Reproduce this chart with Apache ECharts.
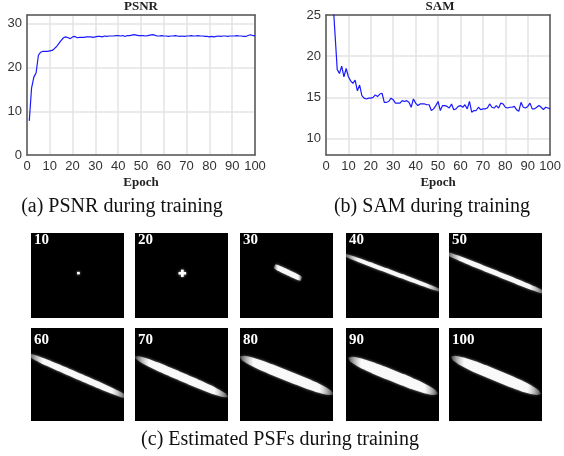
<!DOCTYPE html>
<html>
<head>
    <meta charset="utf-8">
    <title>PSNR / SAM / PSF</title>
    <script src="https://cdn.jsdelivr.net/npm/echarts@6.0.0/dist/echarts.min.js"></script>
    <style>
        html, body { margin: 0; padding: 0; background: #fff; }
        #chart1 { width: 564px; height: 456px; }
    </style>
</head>
<body>
<div id="chart1"></div>

<script type="text/javascript">
    // PSNR per epoch (epoch 1..100)
    var psnr = [
        7.8, 15.3, 17.8, 18.8, 22.8, 23.5, 23.7, 23.7, 23.7, 23.8,
        23.9, 24.3, 24.8, 25.5, 26.2, 26.8, 27.0, 26.8, 26.6, 27.0,
        27.1, 26.8, 26.9, 26.9, 26.9, 27.0, 27.0, 27.0, 26.9, 27.0,
        27.1, 27.1, 27.0, 27.2, 27.1, 27.2, 27.2, 27.2, 27.3, 27.3,
        27.2, 27.3, 27.1, 27.3, 27.3, 27.4, 27.5, 27.4, 27.3, 27.3,
        27.3, 27.2, 27.3, 27.4, 27.5, 27.4, 27.2, 27.2, 27.3, 27.2,
        27.2, 27.1, 27.2, 27.2, 27.3, 27.2, 27.1, 27.2, 27.1, 27.2,
        27.2, 27.3, 27.2, 27.2, 27.3, 27.2, 27.2, 27.1, 27.1, 27.0,
        27.1, 27.0, 27.1, 27.2, 27.1, 27.2, 27.2, 27.1, 27.2, 27.2,
        27.2, 27.3, 27.2, 27.2, 27.1, 27.1, 27.3, 27.5, 27.3, 27.3
    ];
    // SAM per epoch (epoch 1..100), first ones above the plot top
    var sam = [
        40.0, 31.0, 27.2, 22.8, 18.4, 17.9, 18.8, 17.5, 18.5, 17.5,
        17.0, 16.7, 17.1, 15.8, 16.5, 15.2, 14.9, 14.8, 14.9, 14.9,
        15.0, 15.3, 15.1, 15.4, 15.5, 14.4, 14.4, 14.5, 14.9, 14.7,
        14.3, 14.3, 14.3, 14.6, 14.5, 14.6, 14.4, 13.8, 14.8, 14.3,
        14.0, 14.2, 14.2, 14.2, 14.1, 14.1, 13.4, 13.6, 14.0, 14.5,
        13.4, 14.0, 14.0, 13.9, 13.7, 14.2, 13.5, 13.6, 13.9, 14.0,
        13.8, 14.1, 13.6, 14.5, 13.2, 13.4, 13.4, 13.8, 13.5, 13.6,
        13.6, 13.7, 14.2, 13.8, 13.7, 14.0, 13.7, 14.3, 14.2, 13.8,
        13.7, 13.8, 13.8, 13.9, 13.5, 13.3, 14.4, 13.8, 13.7, 13.9,
        14.3, 13.6, 13.6, 13.8, 14.0, 13.8, 13.5, 13.8, 13.7, 13.6
    ];

    // estimated PSF snapshots: streaks in panel coords [x1, y1, x2, y2, width, taper]
    var psfEpochs = [10, 20, 30, 40, 50, 60, 70, 80, 90, 100];
    var psfStreaks = [
        [[0.495, 0.472, 0.525, 0.472, 0.03, 0]],
        [[0.468, 0.474, 0.55, 0.474, 0.03, 0], [0.509, 0.431, 0.509, 0.517, 0.032, 0]],
        [[0.37, 0.39, 0.66, 0.54, 0.065, 0.3]],
        [[-0.02, 0.255, 1.02, 0.68, 0.05, 0.5]],
        [[-0.02, 0.24, 1.02, 0.70, 0.06, 0.5]],
        [[-0.02, 0.29, 1.02, 0.74, 0.07, 0.6]],
        [[0.0, 0.31, 1.0, 0.74, 0.09, 0.9]],
        [[0.0, 0.31, 1.0, 0.71, 0.11, 0.9]],
        [[0.02, 0.32, 0.99, 0.71, 0.12, 1]],
        [[0.02, 0.31, 0.99, 0.71, 0.12, 1]]
    ];

    var serif = 'Liberation Serif';
    var sans = 'Liberation Sans';
    var panelLeft = [31, 135, 240, 346, 449];
    var panelTop = [233, 328];
    var panelH = [85, 93];

    function toPairs(arr) {
        return arr.map(function (v, i) { return [i + 1, v]; });
    }

    function renderStreak(params, api) {
        var p1 = api.coord([api.value(0), api.value(1)]);
        var p2 = api.coord([api.value(2), api.value(3)]);
        var w = api.size([0, api.value(4)])[1];
        var taper = api.value(5);
        var dx = p2[0] - p1[0], dy = p2[1] - p1[1];
        var len = Math.sqrt(dx * dx + dy * dy) || 1;
        var nx = -dy / len, ny = dx / len;
        var top = [], bottom = [];
        for (var i = 0; i <= 30; i++) {
            var t = i / 30;
            var u = Math.abs(2 * t - 1);
            var half = w / 2 * (1 - taper + taper * Math.sqrt(1 - Math.pow(u, 3)));
            var cx = p1[0] + dx * t, cy = p1[1] + dy * t;
            top.push([cx + nx * half, cy + ny * half]);
            bottom.unshift([cx - nx * half, cy - ny * half]);
        }
        var fill = '#fff';
        if (taper > 0) {
            fill = new echarts.graphic.LinearGradient(0, 0, 1, 0, [
                {offset: 0, color: 'rgba(255,255,255,0.2)'},
                {offset: 0.15, color: 'rgba(255,255,255,0.95)'},
                {offset: 0.85, color: 'rgba(255,255,255,0.95)'},
                {offset: 1, color: 'rgba(255,255,255,0.2)'}
            ]);
        }
        return {
            type: 'polygon',
            shape: {points: top.concat(bottom)},
            style: {fill: fill, shadowBlur: 3, shadowColor: 'rgba(255,255,255,0.6)'}
        };
    }

    var grids = [
        {left: 27, top: 15, width: 228, height: 140, show: false},
        {left: 326, top: 15, width: 228, height: 140, show: false}
    ];
    var xAxes = [], yAxes = [], series = [], titles = [];

    var frameLine = {show: true, onZero: false, lineStyle: {color: '#555', width: 1.5}};
    var gridLine = {show: true, lineStyle: {color: '#e3e3e3', width: 1.5}};
    var tickLabel = {color: '#333', fontFamily: sans, fontSize: 13, margin: 5};

    [0, 1].forEach(function (g) {
        xAxes.push({
            gridIndex: g, type: 'value', min: 0, max: 100, interval: 10,
            name: 'Epoch', nameLocation: 'middle', nameGap: 21,
            nameTextStyle: {fontFamily: serif, fontWeight: 'bold', fontSize: 13, color: '#222'},
            axisLine: frameLine, axisTick: {show: false},
            axisLabel: tickLabel, splitLine: gridLine
        });
    });
    yAxes.push({
        gridIndex: 0, type: 'value', min: 0, max: 32, interval: 10,
        axisLine: frameLine, axisTick: {show: false},
        axisLabel: {color: '#333', fontFamily: sans, fontSize: 13, margin: 5, showMaxLabel: false},
        splitLine: gridLine
    });
    yAxes.push({
        gridIndex: 1, type: 'value', min: 8, max: 25, splitNumber: 3,
        axisLine: frameLine, axisTick: {show: false},
        axisLabel: {color: '#333', fontFamily: sans, fontSize: 13, margin: 5, showMinLabel: false},
        splitLine: gridLine
    });
    // top and right edges of the frames
    [0, 1].forEach(function (g) {
        xAxes.push({gridIndex: g, type: 'value', position: 'top', min: 0, max: 1,
            axisLine: frameLine, axisTick: {show: false}, axisLabel: {show: false}, splitLine: {show: false}});
        yAxes.push({gridIndex: g, type: 'value', position: 'right', min: 0, max: 1,
            axisLine: frameLine, axisTick: {show: false}, axisLabel: {show: false}, splitLine: {show: false}});
    });

    series.push({
        type: 'line', xAxisIndex: 0, yAxisIndex: 0, data: toPairs(psnr),
        showSymbol: false, smooth: false, lineStyle: {color: '#1a1aff', width: 1.2}
    });
    series.push({
        type: 'line', xAxisIndex: 1, yAxisIndex: 1, data: toPairs(sam),
        showSymbol: false, smooth: false, lineStyle: {color: '#1a1aff', width: 1.2}
    });

    titles.push({text: 'PSNR', left: 141, top: 0, textAlign: 'center', padding: 0,
        textStyle: {fontFamily: serif, fontWeight: 'bold', fontSize: 13, color: '#222'}});
    titles.push({text: 'SAM', left: 440, top: 0, textAlign: 'center', padding: 0,
        textStyle: {fontFamily: serif, fontWeight: 'bold', fontSize: 13, color: '#222'}});

    var captionStyle = {fontFamily: serif, fontWeight: 'normal', fontSize: 20, color: '#111'};
    titles.push({text: '(a) PSNR during training', left: 122, top: 197, textAlign: 'center', padding: 0, textStyle: captionStyle});
    titles.push({text: '(b) SAM during training', left: 432, top: 197, textAlign: 'center', padding: 0, textStyle: captionStyle});
    titles.push({text: '(c) Estimated PSFs during training', left: 280, top: 430, textAlign: 'center', padding: 0, textStyle: captionStyle});

    psfEpochs.forEach(function (ep, i) {
        var row = Math.floor(i / 5), col = i % 5;
        var g = grids.length;
        grids.push({
            left: panelLeft[col], top: panelTop[row], width: 93, height: panelH[row],
            show: true, backgroundColor: '#000', borderWidth: 0
        });
        xAxes.push({gridIndex: g, type: 'value', min: 0, max: 1, show: false});
        yAxes.push({gridIndex: g, type: 'value', min: 0, max: 1, inverse: true, show: false});
        series.push({
            type: 'custom', xAxisIndex: xAxes.length - 1, yAxisIndex: yAxes.length - 1,
            clip: true, renderItem: renderStreak, data: psfStreaks[i]
        });
        titles.push({
            text: String(ep), left: panelLeft[col] + 3, top: panelTop[row] + (row === 0 ? 0 : 5), padding: 0,
            textStyle: {fontFamily: serif, fontWeight: 'bold', fontSize: 15, color: '#fff'}
        });
    });

    var myChart = echarts.init(document.getElementById('chart1'));
    myChart.setOption({
        animation: false,
        title: titles,
        grid: grids,
        xAxis: xAxes,
        yAxis: yAxes,
        series: series
    });
</script>
</body>
</html>
